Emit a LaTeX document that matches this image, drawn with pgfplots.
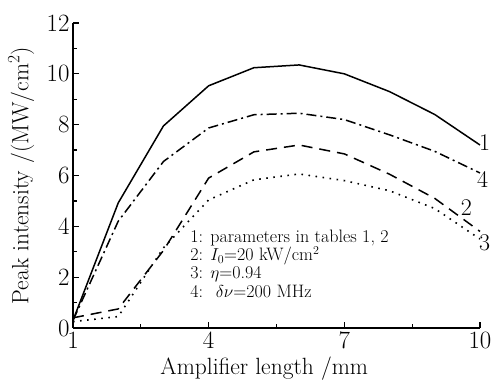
\documentclass[border=0pt]{standalone}
\usepackage{pgfplots}
\pgfplotsset{compat=1.18}
\begin{document}
\begin{tikzpicture}
\useasboundingbox (-73pt,-52pt) rectangle (431pt,328pt);
\begin{axis}[
  scale only axis,
  width=407pt, height=305pt,
  xmin=1, xmax=10, ymin=0, ymax=12,
  axis x line*=bottom, axis y line*=left,
  axis line style={line width=1.5pt},
  xtick={1,4,7,10}, minor xtick={2.5,5.5,8.5},
  ytick={0,2,...,12}, minor ytick={1,3,...,11},
  tick align=inside,
  major tick length=6pt, minor tick length=4pt,
  every tick/.style={line width=1.3pt, black},
  tick label style={font=\fontsize{23}{27}\selectfont},
  label style={font=\fontsize{23.5}{27}\selectfont},
  xlabel={Amplifier length /mm},
  ylabel={Peak intensity /(MW/cm$^2$)},
  xlabel style={at={(axis description cs:0.47,-0.151)}, anchor=base, inner sep=1pt},
  ylabel style={at={(axis description cs:-0.127,0.5)}, anchor=center},
  xticklabel style={inner sep=1pt, yshift=-3pt},
  clip=false,
]
\addplot[black, line width=1.5pt] coordinates {
 (1,0.3) (2,4.92) (3,7.95) (4,9.53) (5,10.24) (6,10.35) (7,10.0) (8,9.3) (9,8.4) (10,7.2)};
\addplot[black, line width=1.5pt, dash pattern=on 11pt off 7pt] coordinates {
 (1,0.4) (2,0.75) (3,3.05) (4,5.9) (5,6.93) (6,7.2) (7,6.85) (8,6.05) (9,5.1) (10,3.8)};
\addplot[black, line width=1.6pt, dash pattern=on 1.6pt off 5.5pt] coordinates {
 (1,0.25) (2,0.45) (3,3.15) (4,5.04) (5,5.83) (6,6.06) (7,5.8) (8,5.4) (9,4.7) (10,3.5)};
\addplot[black, line width=1.5pt, dash pattern=on 10pt off 4pt on 2pt off 4pt] coordinates {
 (1,0.3) (2,4.2) (3,6.55) (4,7.87) (5,8.39) (6,8.45) (7,8.2) (8,7.6) (9,6.95) (10,6.1)};
\node[font=\fontsize{24}{28}\selectfont] at (axis cs:10.1,7.28) {1};
\node[font=\fontsize{24}{28}\selectfont] at (axis cs:10.06,5.83) {4};
\node[font=\fontsize{24}{28}\selectfont] at (axis cs:9.7,4.72) {2};
\node[font=\fontsize{24}{28}\selectfont] at (axis cs:10.1,3.35) {3};
\begin{scope}[every node/.style={anchor=base west, inner sep=0pt, font=\fontsize{18}{20}\selectfont}]
\node at (axis cs:3.59,3.38) {1: parameters in tables 1, 2};
\node at (axis cs:3.59,2.65) {2: $I_0$=20 kW/cm$^2$};
\node at (axis cs:3.59,1.93) {3: $\eta$=0.94};
\node at (axis cs:3.59,1.2) {4: \ $\delta\nu$=200 MHz};
\end{scope}
\end{axis}
\end{tikzpicture}
\end{document}
